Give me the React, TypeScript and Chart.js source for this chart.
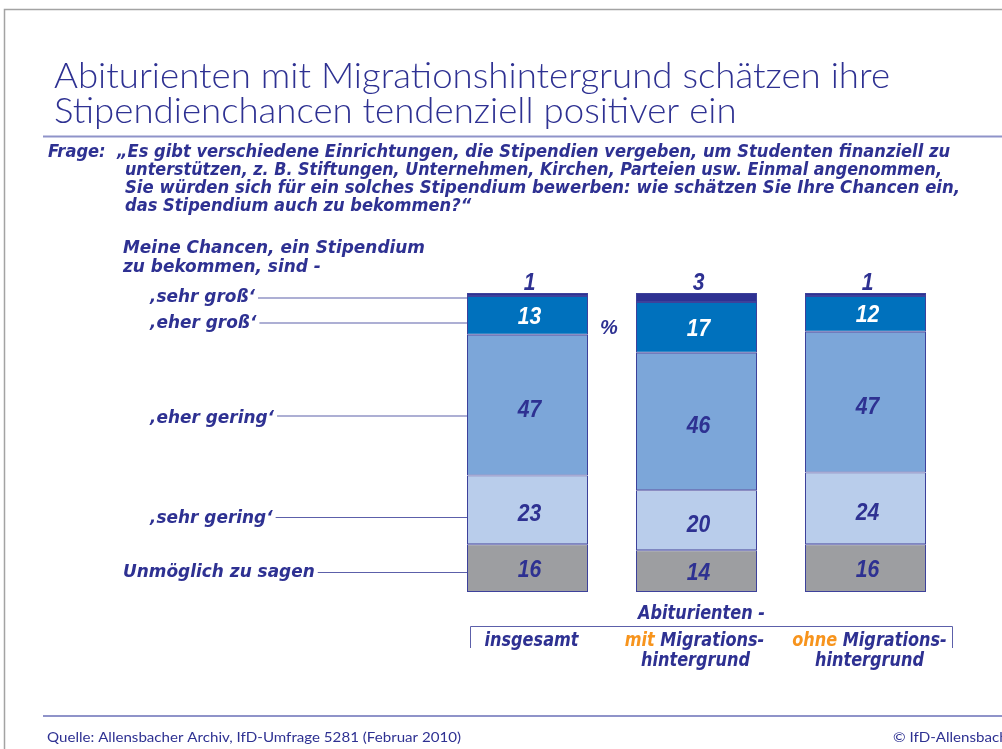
import React, { useEffect, useRef } from 'react';
import { Chart, registerables } from 'chart.js';

Chart.register(...registerables);

// ---------- data ----------
const categories = ['insgesamt', 'mit Migrationshintergrund', 'ohne Migrationshintergrund'];
const seriesNames = ['Unmöglich zu sagen', '\u201Asehr gering\u2018', '\u201Aeher gering\u2018', '\u201Aeher groß\u2018', '\u201Asehr groß\u2018'];
const unmoeglich = [16, 14, 16];
const sehrGering = [23, 20, 24];
const eherGering = [47, 46, 47];
const eherGross = [13, 17, 12];
const sehrGross = [1, 3, 1];

const titleLines = [
  'Abiturienten mit Migrationshintergrund schätzen ihre',
  'Stipendienchancen tendenziell positiver ein',
];
const questionLabel = 'Frage:';
const questionLines = [
  '\u201EEs gibt verschiedene Einrichtungen, die Stipendien vergeben, um Studenten finanziell zu',
  'unterstützen, z. B. Stiftungen, Unternehmen, Kirchen, Parteien usw. Einmal angenommen,',
  'Sie würden sich für ein solches Stipendium bewerben: wie schätzen Sie Ihre Chancen ein,',
  'das Stipendium auch zu bekommen?\u201C',
];
const axisHeading = ['Meine Chancen, ein Stipendium', 'zu bekommen, sind -'];
const groupHeading = 'Abiturienten -';
const sourceText = 'Quelle: Allensbacher Archiv, IfD-Umfrage 5281 (Februar 2010)';
const copyrightText = '© IfD-Allensbach';

// ---------- styles ----------
const NAVY = '#2e3192';
const ORANGE = '#f7941d';
const RULE = '#8f93c9';
const LEADER = '#5c60aa';
const COLORS = ['#9d9ea1', '#b9cdeb', '#7ca6d9', '#0071bd', '#2e3192'];
const LABEL_COLORS = [NAVY, NAVY, NAVY, '#ffffff', NAVY];

const BI = (s: number) => `italic bold ${s}px "DejaVu Sans"`;
const LIGHT = (s: number) => `300 ${s}px Lato`;

type Part = [string, string];
function drawText(
  ctx: CanvasRenderingContext2D,
  parts: Part[],
  x: number,
  y: number,
  font: string,
  o: { width?: number; sx?: number; align?: 'left' | 'center' | 'right' } = {}
) {
  ctx.font = font;
  const full = parts.map((p) => p[0]).join('');
  const nat = ctx.measureText(full).width;
  const sx = o.width ? o.width / nat : o.sx ?? 1;
  const w = nat * sx;
  let x0 = x;
  if (o.align === 'center') x0 = x - w / 2;
  else if (o.align === 'right') x0 = x - w;
  ctx.save();
  ctx.translate(x0, y);
  ctx.scale(sx, 1);
  ctx.textBaseline = 'alphabetic';
  ctx.textAlign = 'left';
  let cx = 0;
  for (const [t, c] of parts) {
    ctx.fillStyle = c;
    ctx.fillText(t, cx, 0);
    cx += ctx.measureText(t).width;
  }
  ctx.restore();
  return { sx, w, x0 };
}

function hline(ctx: CanvasRenderingContext2D, x1: number, x2: number, y: number, color: string, lw = 1) {
  ctx.save();
  ctx.strokeStyle = color;
  ctx.lineWidth = lw;
  ctx.beginPath();
  ctx.moveTo(x1, y);
  ctx.lineTo(x2, y);
  ctx.stroke();
  ctx.restore();
}

const overlay = {
  id: 'overlay',
  afterDraw(chart: any) {
    const ctx: CanvasRenderingContext2D = chart.ctx;
    const W = chart.width;

    // frame
    ctx.save();
    ctx.strokeStyle = '#a3a3a3';
    ctx.lineWidth = 1.5;
    ctx.beginPath();
    ctx.moveTo(4.5, 749);
    ctx.lineTo(4.5, 9.5);
    ctx.lineTo(W, 9.5);
    ctx.stroke();
    ctx.restore();

    // title
    const t1 = drawText(ctx, [[titleLines[0], NAVY]], 54, 88, LIGHT(35), { width: 836 });
    drawText(ctx, [[titleLines[1], NAVY]], 54, 123, LIGHT(35), { sx: t1.sx });
    hline(ctx, 43, W, 136.5, RULE, 2);

    // question
    const q1 = drawText(ctx, [[questionLines[0], NAVY]], 117, 157, BI(17), { width: 833 });
    drawText(ctx, [[questionLabel, NAVY]], 48, 157, BI(17), { sx: q1.sx });
    drawText(ctx, [[questionLines[1], NAVY]], 125, 175, BI(17), { width: 817 });
    drawText(ctx, [[questionLines[2], NAVY]], 125, 193, BI(17), { width: 835 });
    drawText(ctx, [[questionLines[3], NAVY]], 125, 211, BI(17), { sx: q1.sx });

    // axis heading
    const h1 = drawText(ctx, [[axisHeading[0], NAVY]], 123, 253, BI(18), { width: 302 });
    drawText(ctx, [[axisHeading[1], NAVY]], 123, 272, BI(18), { sx: h1.sx });

    // left labels with leader lines (to first bar's left edge)
    const firstBar = chart.getDatasetMeta(0).data[0];
    const barLeft = firstBar.x - firstBar.width / 2;
    const leaders: Array<[number, number, number, number]> = [
      // [series index, text x, baseline, line y]
      [4, 150, 302, 298],
      [3, 150, 328, 323],
      [2, 150, 423, 416],
      [1, 150, 523, 517.5],
      [0, 123, 577, 572.5],
    ];
    for (const [si, tx, by, ly] of leaders) {
      const r = drawText(ctx, [[seriesNames[si], NAVY]], tx, by, BI(18), { sx: h1.sx });
      hline(ctx, tx + r.w + 3, barLeft, ly, LEADER, 1.2);
    }

    // value labels
    chart.data.datasets.forEach((ds: any, di: number) => {
      const meta = chart.getDatasetMeta(di);
      meta.data.forEach((bar: any, i: number) => {
        const v = ds.data[i];
        let cy = (bar.y + bar.base) / 2;
        let color = LABEL_COLORS[di];
        if (di === 4) {
          cy = bar.y - 12;
          color = NAVY;
        }
        if (di === 2 || di === 1) cy += 3;
        drawText(ctx, [[String(v), color]], bar.x + 2, cy + 8.5, `italic bold 24px "Liberation Sans"`, {
          sx: 0.88,
          align: 'center',
        });
      });
    });

    // percent sign
    drawText(ctx, [['%', NAVY]], 609, 334, `italic bold 20px "Liberation Sans"`, { align: 'center' });

    // group bracket
    ctx.save();
    ctx.strokeStyle = LEADER;
    ctx.lineWidth = 1;
    ctx.beginPath();
    ctx.moveTo(470.5, 648);
    ctx.lineTo(470.5, 626.5);
    ctx.lineTo(952.5, 626.5);
    ctx.lineTo(952.5, 648);
    ctx.stroke();
    ctx.restore();

    const centers = chart.getDatasetMeta(0).data.map((b: any) => b.x);
    const g = drawText(ctx, [[groupHeading, NAVY]], centers[1] + 5, 619, BI(19), { width: 127, align: 'center' });
    drawText(ctx, [['insgesamt', NAVY]], centers[0] + 4, 646, BI(19), { sx: g.sx, align: 'center' });
    drawText(ctx, [['mit', ORANGE], [' Migrations-', NAVY]], centers[1] - 2, 646, BI(19), { sx: g.sx, align: 'center' });
    drawText(ctx, [['hintergrund', NAVY]], centers[1] - 1, 666, BI(19), { sx: g.sx, align: 'center' });
    drawText(ctx, [['ohne', ORANGE], [' Migrations-', NAVY]], centers[2] + 4, 646, BI(19), { sx: g.sx, align: 'center' });
    drawText(ctx, [['hintergrund', NAVY]], centers[2] + 4, 666, BI(19), { sx: g.sx, align: 'center' });

    // footer
    hline(ctx, 43, W, 716, RULE, 2);
    const f = drawText(ctx, [[sourceText, NAVY]], 47, 742, `13px Lato`, { width: 414 });
    drawText(ctx, [[copyrightText, NAVY]], 893, 742, `13px Lato`, { sx: f.sx });
  },
};

export default function App() {
  const canvasRef = useRef<HTMLCanvasElement | null>(null);

  useEffect(() => {
    document.body.style.margin = '0';
    document.body.style.background = '#ffffff';
    const canvas = canvasRef.current;
    if (!canvas) return;
    const chart = new Chart(canvas, {
      type: 'bar',
      data: {
        labels: categories,
        datasets: [
          { label: seriesNames[0], data: unmoeglich, backgroundColor: COLORS[0] },
          { label: seriesNames[1], data: sehrGering, backgroundColor: COLORS[1] },
          { label: seriesNames[2], data: eherGering, backgroundColor: COLORS[2] },
          { label: seriesNames[3], data: eherGross, backgroundColor: COLORS[3] },
          { label: seriesNames[4], data: sehrGross, backgroundColor: COLORS[4] },
        ],
      },
      options: {
        responsive: false,
        animation: false,
        devicePixelRatio: 1,
        layout: { padding: { left: 443, right: 52, top: 293, bottom: 157 } },
        plugins: {
          legend: { display: false },
          tooltip: { enabled: false },
          title: { display: false },
        },
        scales: {
          x: { stacked: true, display: false },
          y: { stacked: true, display: false, min: 0, max: 100 },
        },
        datasets: {
          bar: {
            barPercentage: 0.716,
            categoryPercentage: 1,
            borderWidth: 1,
            borderColor: '#3d419b',
            borderSkipped: false,
          },
        },
      } as any,
      plugins: [overlay],
    });
    const fonts = (document as any).fonts;
    if (fonts && fonts.load) {
      Promise.all([
        fonts.load('300 35px Lato'),
        fonts.load('13px Lato'),
        fonts.load('italic bold 17px "DejaVu Sans"'),
        fonts.load('italic bold 24px "Liberation Sans"'),
      ])
        .then(() => chart.update())
        .catch(() => {});
    }
    return () => chart.destroy();
  }, []);

  return (
    <div style={{ width: 1002, height: 749, position: 'relative' }}>
      <canvas ref={canvasRef} width={1002} height={749} style={{ display: 'block' }} />
    </div>
  );
}
